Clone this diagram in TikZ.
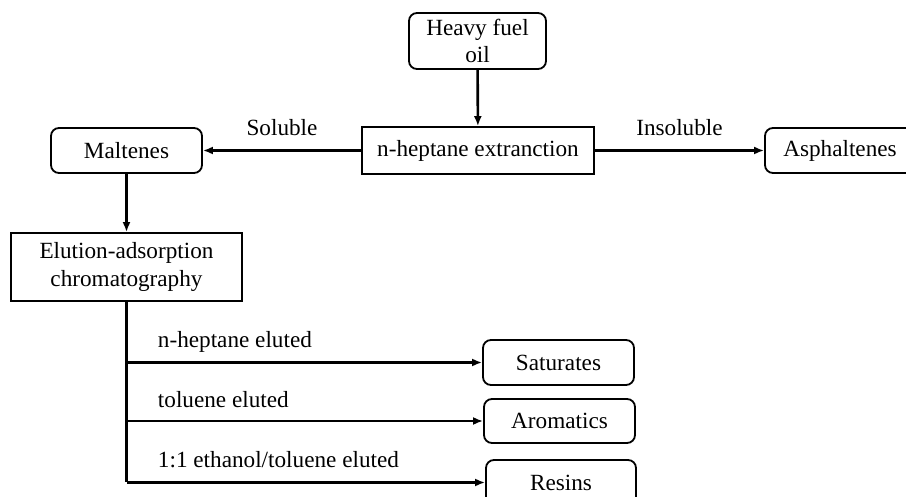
\documentclass[tikz,border=0pt]{standalone}
\usepackage{fontspec}
\setmainfont{Liberation Serif}
\usetikzlibrary{arrows.meta}

\begin{document}
\begin{tikzpicture}[x=0.5pt,y=-0.5pt,line width=1.3pt,>={Latex[length=5pt,width=4pt]},
  every node/.style={font=\fontsize{11.6}{13.8}\selectfont},
  rbox/.style={draw,line width=0.9pt,rounded corners=4pt,align=center,inner sep=0pt,minimum width=75.5pt,minimum height=22.5pt},
  sbox/.style={draw,line width=0.9pt,align=center,inner sep=0pt}]
  \useasboundingbox (0,0) rectangle (906,497);
  % extraction
  \node[rbox,minimum width=68.5pt,minimum height=28pt] (hfo) at (477.5,41) {Heavy fuel\\oil};
  \node[sbox,minimum width=116pt,minimum height=23.5pt] (hept) at (478,150.5) {n-heptane extranction};
  \node[rbox] (malt) at (126.5,150.5) {Maltenes};
  \node[rbox,minimum width=75pt] (asph) at (840,150.5) {Asphaltenes};
  \draw[->] (hfo) -- (hept);
  \draw[->] (hept) -- node[above=3.5pt] (lsol) {Soluble} (malt);
  \draw[->] (hept) -- node[above=3.5pt] (linsol) {Insoluble} (asph);
  % chromatography
  \node[sbox,minimum width=115.5pt,minimum height=34pt] (elut) at (126.5,267) {Elution-adsorption\\chromatography};
  \draw[->] (malt) -- (elut);
  \node[rbox] (sat) at (558.5,362.5) {Saturates};
  \node[rbox,minimum height=22pt] (aro) at (559.5,421) {Aromatics};
  \node[rbox,minimum width=75pt] (res) at (561,482.5) {Resins};
  \draw (elut.south) -- (elut.south |- res.west);
  \draw[->] (elut.south |- sat.west) -- (sat.west);
  \draw[->] (elut.south |- aro.west) -- (aro.west);
  \draw[->] (elut.south |- res.west) -- (res.west);
  \node[anchor=west] (lhep) at (150,342) {n-heptane eluted};
  \node[anchor=west] (ltol) at (150,400) {toluene eluted};
  \node[anchor=west] (leth) at (150,460) {1:1 ethanol/toluene eluted};
\end{tikzpicture}
\end{document}
